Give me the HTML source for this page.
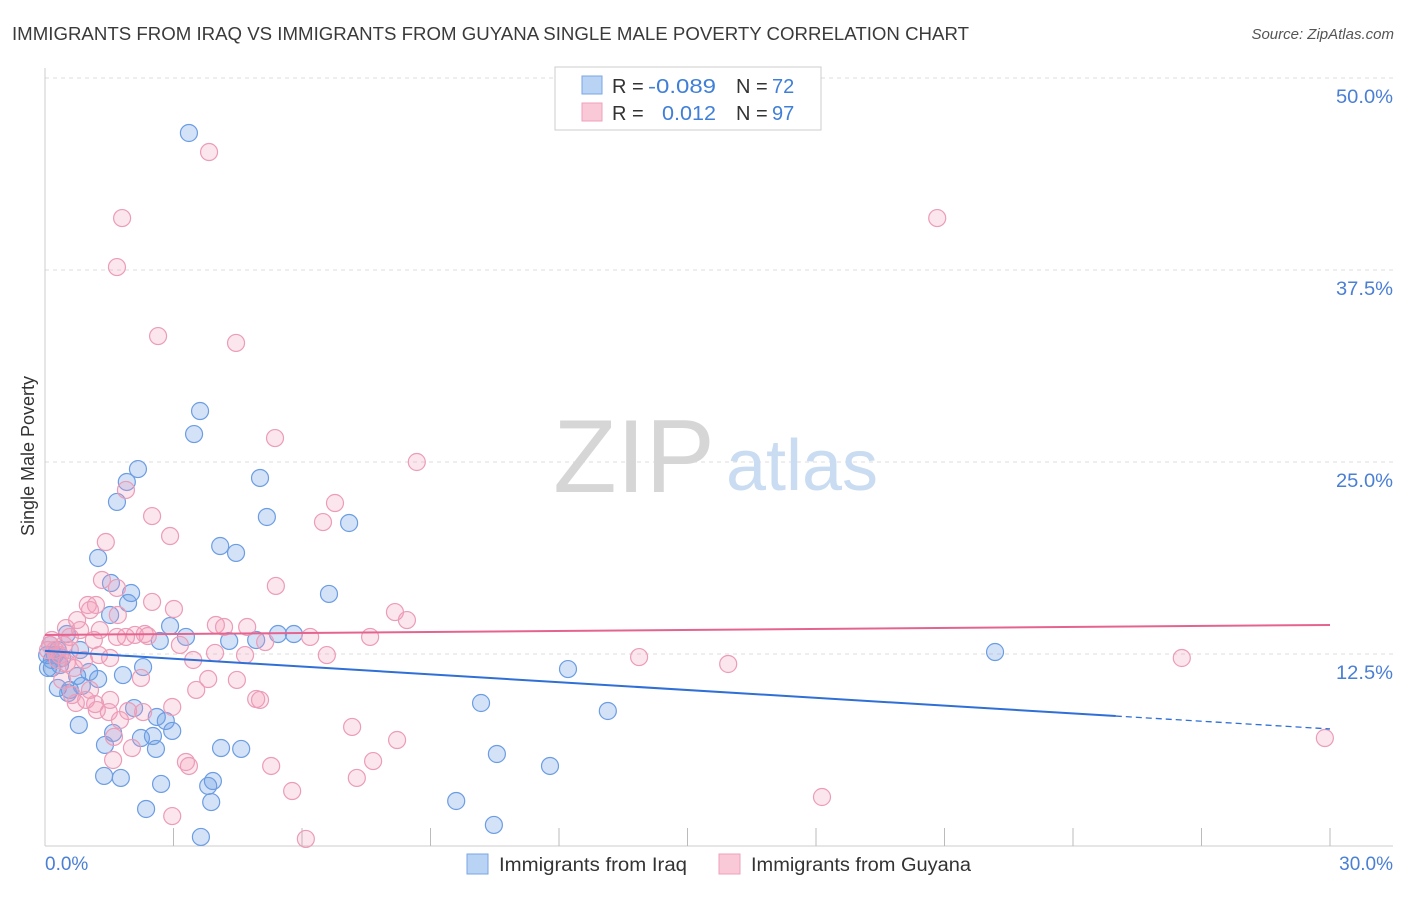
<!DOCTYPE html>
<html><head><meta charset="utf-8">
<style>
body{margin:0;background:#fff;font-family:"Liberation Sans",sans-serif;}
svg text{font-family:"Liberation Sans",sans-serif;}
</style></head>
<body>
<svg id="chart" width="1406" height="892" viewBox="0 0 1406 892" xmlns="http://www.w3.org/2000/svg">
<text x="12" y="40" font-size="18" fill="#3a3a3a" textLength="957" lengthAdjust="spacingAndGlyphs">IMMIGRANTS FROM IRAQ VS IMMIGRANTS FROM GUYANA SINGLE MALE POVERTY CORRELATION CHART</text>
<text x="1394" y="39" font-size="15" fill="#555" font-style="italic" text-anchor="end">Source: ZipAtlas.com</text>
<g id="grid"></g>
<g>
<text x="634" y="492" font-size="104" fill="#d6d6d6" font-family="Liberation Serif,serif" text-anchor="middle">ZIP</text>
<text x="802" y="490" font-size="72" fill="#c9dcf2" text-anchor="middle">atlas</text>
</g>
<text transform="translate(34,456) rotate(-90)" font-size="18" fill="#333" text-anchor="middle">Single Male Poverty</text>
<g id="ticks"></g>
<g id="pts"></g>
<g id="trends"></g>
<g>
<rect x="555" y="67" width="266" height="63" fill="#fff" stroke="#ccc"/>
<rect x="582" y="76" width="20" height="18" fill="#b9d3f5" stroke="#7aa6e3"/>
<rect x="582" y="103" width="20" height="18" fill="#f9c9d8" stroke="#eea1bb"/>
<text x="612" y="93" font-size="20" fill="#333">R = </text>
<text x="648" y="93" font-size="20" fill="#3f7fd8" textLength="68" lengthAdjust="spacingAndGlyphs">-0.089</text>
<text x="736" y="93" font-size="20" fill="#333">N = </text>
<text x="772" y="93" font-size="20" fill="#3f7fd8">72</text>
<text x="612" y="120" font-size="20" fill="#333">R = </text>
<text x="662" y="120" font-size="20" fill="#3f7fd8" textLength="54" lengthAdjust="spacingAndGlyphs">0.012</text>
<text x="736" y="120" font-size="20" fill="#333">N = </text>
<text x="772" y="120" font-size="20" fill="#3f7fd8">97</text>
</g>
<g>
<rect x="467" y="854" width="21" height="20" fill="#b9d3f5" stroke="#7aa6e3"/>
<text x="499" y="871" font-size="19" fill="#333" textLength="188" lengthAdjust="spacingAndGlyphs">Immigrants from Iraq</text>
<rect x="719" y="854" width="21" height="20" fill="#f9c9d8" stroke="#eea1bb"/>
<text x="751" y="871" font-size="19" fill="#333" textLength="220" lengthAdjust="spacingAndGlyphs">Immigrants from Guyana</text>
</g>
</svg>
<script>
const yTicks=[12.5,25,37.5,50];
const yTickLabels=["12.5%","25.0%","37.5%","50.0%"];
const xTickLabels=["0.0%","30.0%"];
const iraqX=[3.36,3.62,3.48,2.17,1.91,1.68,5.02,5.18,7.10,4.09,4.46,1.24,1.54,2.01,1.94,1.52,6.63,2.92,3.29,2.68,4.30,4.93,5.44,5.81,0.51,0.30,0.82,0.16,0.16,2.29,1.82,1.03,1.24,0.75,0.86,0.58,0.30,0.54,12.21,22.18,10.18,13.14,2.08,2.61,2.82,2.97,0.79,2.52,2.24,1.59,1.40,2.59,4.11,4.58,10.55,11.79,1.38,1.77,2.71,3.92,3.81,3.88,2.36,9.60,10.48,3.64,0.07,0.23,0.40,0.05,0.12,0.35];
const iraqY=[46.42,28.32,26.82,24.54,23.70,22.40,23.96,21.42,21.03,19.53,19.08,18.75,17.12,16.47,15.82,15.04,16.41,14.32,13.61,13.35,13.35,13.41,13.80,13.80,13.80,12.76,12.76,12.11,11.59,11.65,11.13,11.33,10.87,11.07,10.42,10.16,10.29,9.96,11.52,12.63,9.31,8.79,8.98,8.40,8.14,7.49,7.88,7.16,7.03,7.36,6.58,6.32,6.38,6.32,5.99,5.21,4.56,4.43,4.04,4.23,3.91,2.86,2.41,2.93,1.37,0.59,11.59,12.43,12.24,12.43,13.09,11.78];
const guyX=[3.83,1.80,20.83,1.68,2.64,4.46,5.37,8.68,1.89,6.77,6.49,2.50,2.92,1.42,1.33,5.39,1.68,2.50,1.00,1.19,1.05,0.75,3.01,8.17,8.45,3.99,4.18,4.72,2.33,1.68,1.89,2.40,1.14,6.19,7.59,0.58,3.15,5.14,6.58,13.87,15.95,26.54,1.52,1.26,3.46,0.91,0.51,0.68,3.53,4.48,3.81,2.24,4.93,5.02,2.97,1.49,1.94,2.29,1.21,0.72,1.17,7.17,1.75,1.61,8.22,2.03,3.29,3.36,5.28,7.66,1.59,7.28,5.77,18.14,2.97,6.09,29.88,0.35,0.23,0.12,0.44,0.58,0.30,0.07,0.16,0.49,0.82,1.28,1.05,0.63,3.97,4.67,1.70,2.10,0.96,0.40,1.52];
const guyY=[45.18,40.88,40.88,37.69,33.20,32.75,26.56,25.00,23.18,22.33,21.09,21.48,20.18,19.79,17.32,16.93,16.80,15.89,15.69,15.69,15.36,14.71,15.43,15.23,14.71,14.39,14.26,14.26,13.80,13.61,13.61,13.67,13.41,13.61,13.61,13.61,13.09,13.28,12.43,12.30,11.85,12.24,12.24,12.43,12.11,12.11,11.91,11.59,10.16,10.81,10.87,10.94,9.57,9.51,9.05,8.72,8.79,8.72,8.85,9.31,9.24,7.75,8.20,7.10,6.90,6.38,5.47,5.21,5.21,5.53,5.60,4.43,3.58,3.19,1.95,0.46,7.03,12.43,12.76,13.09,13.09,12.76,12.11,12.76,13.41,14.19,14.06,14.06,10.16,9.83,12.57,12.43,15.04,13.74,9.51,10.81,9.51];
const iraqTrend=[12.70,8.46,7.62];
const iraqTrendX=[0,25,30];
const guyTrend=[13.74,14.39];
const guyTrendX=[0,30];

const NS="http://www.w3.org/2000/svg";
const X=v=>45+v/30*1285;
const Y=v=>846-v/12.5*192;
function mk(tag,attrs,parent){const e=document.createElementNS(NS,tag);for(const k in attrs)e.setAttribute(k,attrs[k]);parent.appendChild(e);return e;}
const grid=document.getElementById('grid'),ticks=document.getElementById('ticks');
yTicks.forEach((t,i)=>{
  const l=mk('line',{x1:45,x2:1393,y1:Y(t),y2:Y(t),stroke:'#ddd','stroke-dasharray':'4,4'},grid);
  
  
  const tx=mk('text',{x:1393,y:Y(t)+25,'font-size':19,fill:'#4a7fd4','text-anchor':'end',textLength:57,lengthAdjust:'spacingAndGlyphs'},ticks);
  tx.textContent=yTickLabels[i];
  
  
});
const ax=mk('line',{x1:45,x2:1393,y1:846,y2:846,stroke:'#ccc'},ticks);


const ay=mk('line',{x1:45,x2:45,y1:68,y2:846,stroke:'#ccc'},ticks);


for(let i=1;i<=10;i++){
  const t=mk('line',{x1:X(i*3),x2:X(i*3),y1:828,y2:846,stroke:'#bbb'},ticks);
  
  
}
const xl0=mk('text',{x:45,y:870,'font-size':19,fill:'#4a7fd4'},ticks);xl0.textContent=xTickLabels[0];


const xl1=mk('text',{x:1393,y:870,'font-size':19,fill:'#4a7fd4','text-anchor':'end'},ticks);xl1.textContent=xTickLabels[1];


const pts=document.getElementById('pts');
iraqX.forEach((x,i)=>{
  const c=mk('circle',{cx:X(x),cy:Y(iraqY[i]),r:8.5,fill:'rgba(110,160,230,0.3)',stroke:'#6c9de2','stroke-width':1.2},pts);
  
  
});
guyX.forEach((x,i)=>{
  const c=mk('circle',{cx:X(x),cy:Y(guyY[i]),r:8.5,fill:'rgba(242,155,185,0.25)',stroke:'#eb9cb8','stroke-width':1.2},pts);
  
  
});
const tr=document.getElementById('trends');
const l1=mk('line',{x1:X(iraqTrendX[0]),y1:Y(iraqTrend[0]),x2:X(iraqTrendX[1]),y2:Y(iraqTrend[1]),stroke:'#2f6fd6','stroke-width':2},tr);


const l2=mk('line',{x1:X(iraqTrendX[1]),y1:Y(iraqTrend[1]),x2:X(iraqTrendX[2]),y2:Y(iraqTrend[2]),stroke:'#2f6fd6','stroke-width':1.3,'stroke-dasharray':'6,4'},tr);


const l3=mk('line',{x1:X(guyTrendX[0]),y1:Y(guyTrend[0]),x2:X(guyTrendX[1]),y2:Y(guyTrend[1]),stroke:'#e5648f','stroke-width':2},tr);


</script>
</body></html>
